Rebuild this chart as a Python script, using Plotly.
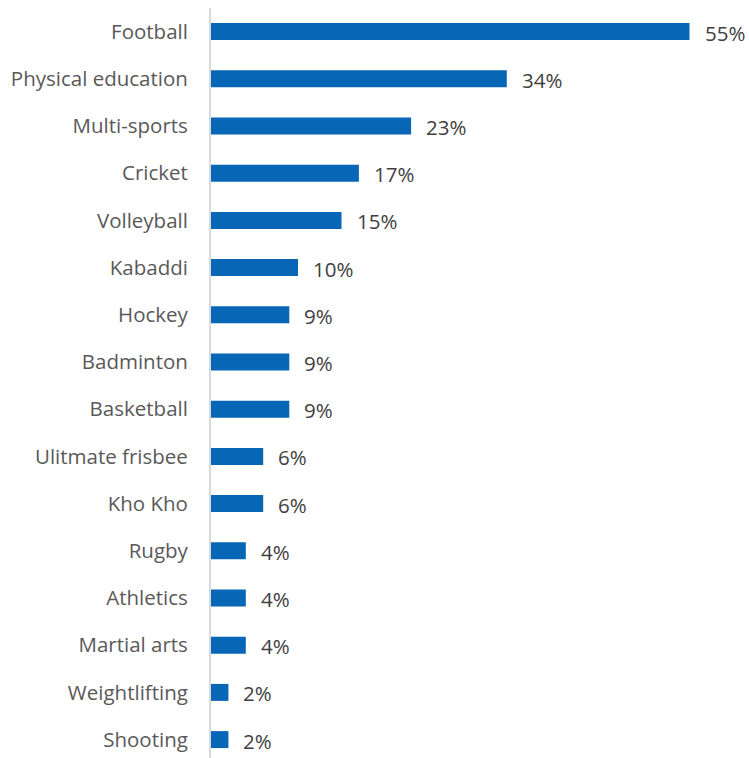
import plotly.graph_objects as go

sports = ["Football", "Physical education", "Multi-sports", "Cricket", "Volleyball",
          "Kabaddi", "Hockey", "Badminton", "Basketball", "Ulitmate frisbee",
          "Kho Kho", "Rugby", "Athletics", "Martial arts", "Weightlifting", "Shooting"]
share_pct = [55, 34, 23, 17, 15, 10, 9, 9, 9, 6, 6, 4, 4, 4, 2, 2]
value_labels = [f"{v}%" for v in share_pct]

BAR_COLOR = "#0766B5"
FONT = "'Open Sans', Lato, sans-serif"

fig = go.Figure()
fig.add_trace(go.Bar(
    x=share_pct, y=sports, orientation="h",
    marker=dict(color=BAR_COLOR, line=dict(width=0)),
    hoverinfo="skip",
))

# value labels to the right of each bar
for s, v, t in zip(sports, share_pct, value_labels):
    fig.add_annotation(x=v, y=s, text=t, showarrow=False, xanchor="left",
                       xshift=13, yshift=-1,
                       font=dict(family=FONT, size=20.5, color="#404040"))

fig.update_layout(
    width=749, height=758,
    margin=dict(l=211, r=16, t=8, b=0),
    paper_bgcolor="white", plot_bgcolor="white",
    bargap=0.64, showlegend=False,
    font=dict(family=FONT, size=20.5, color="#595959"),
)
fig.update_xaxes(range=[0, 60], visible=False, showgrid=False, zeroline=False)
fig.update_yaxes(
    type="category", range=[15.39, -0.5],
    showline=True, linecolor="#D9D9D9", linewidth=2,
    showgrid=False, zeroline=False, ticks="",
    ticklabelstandoff=17,
    tickfont=dict(family=FONT, size=20.5, color="#595959"),
)

fig.write_html("out.html")
